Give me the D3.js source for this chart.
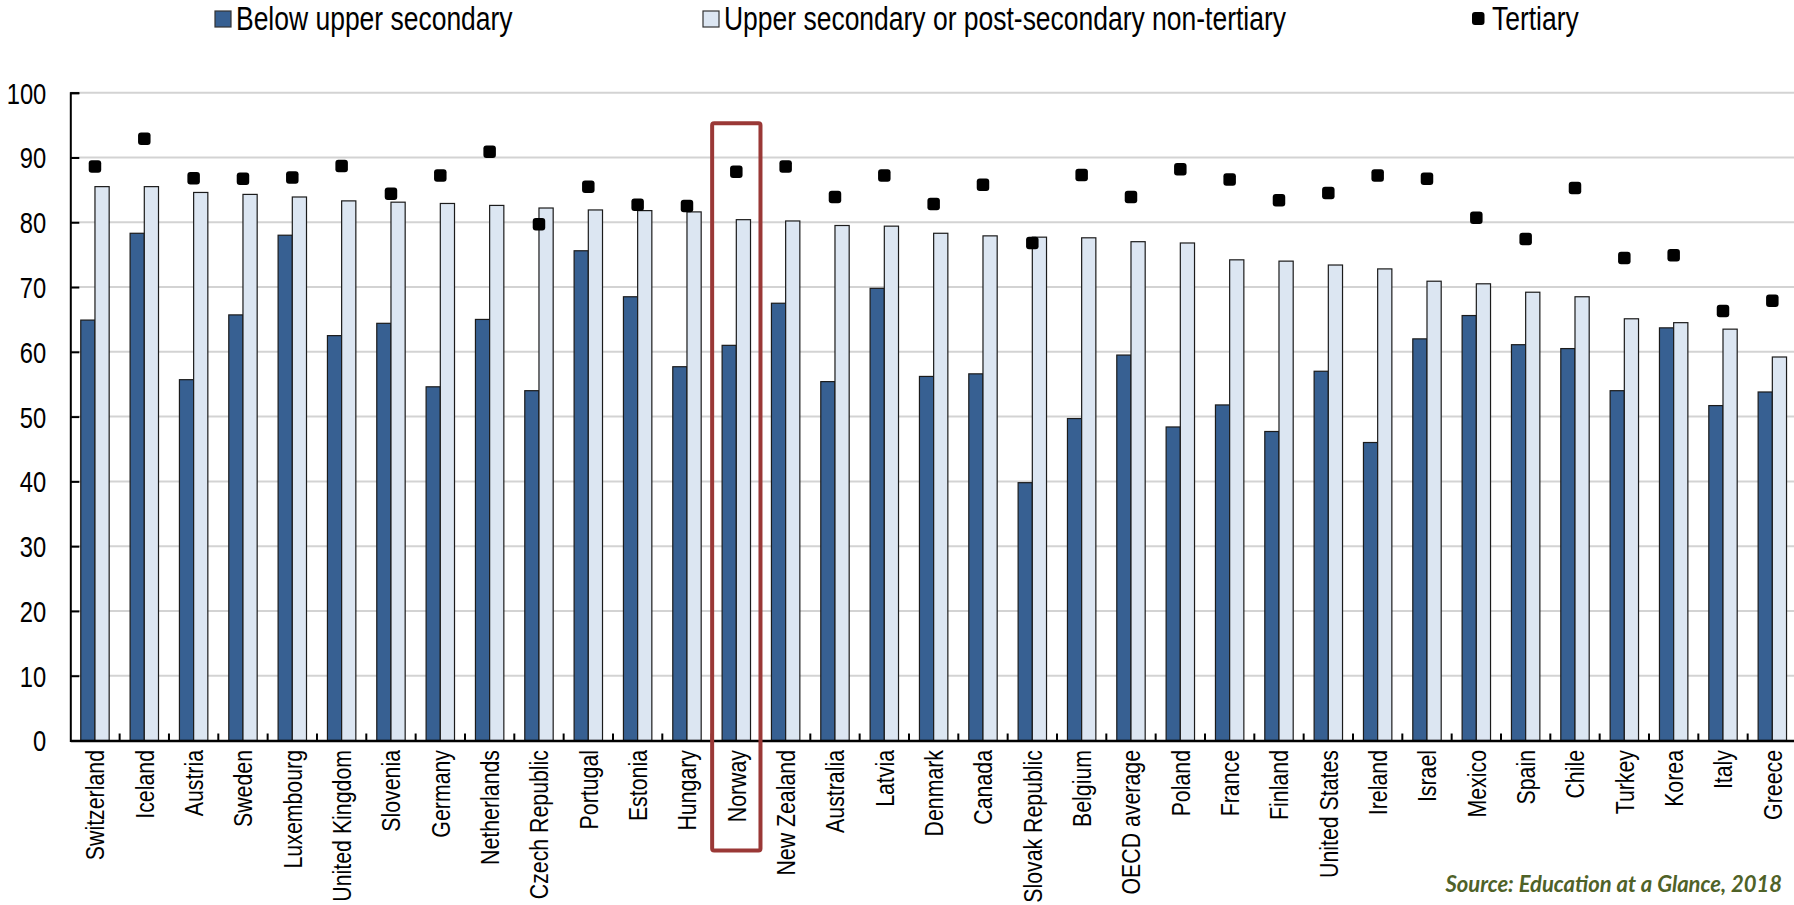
<!DOCTYPE html>
<html>
<head>
<meta charset="utf-8">
<script src="https://cdn.jsdelivr.net/npm/d3@7"></script>
<style>
  html, body { margin: 0; padding: 0; background: #fff; }
  svg { display: block; }
  .narrow { font-family: "Liberation Sans", Arial, sans-serif; }
</style>
</head>
<body>
<svg id="chart" width="1794" height="905"></svg>
<script>
const categories = ["Switzerland","Iceland","Austria","Sweden","Luxembourg","United Kingdom","Slovenia","Germany","Netherlands","Czech Republic","Portugal","Estonia","Hungary","Norway","New Zealand","Australia","Latvia","Denmark","Canada","Slovak Republic","Belgium","OECD average","Poland","France","Finland","United States","Ireland","Israel","Mexico","Spain","Chile","Turkey","Korea","Italy","Greece"];
const belowUpperSecondary = [64.9,78.3,55.7,65.7,78.0,62.5,64.4,54.6,65.0,54.0,75.6,68.5,57.7,61.0,67.5,55.4,69.8,56.2,56.6,39.8,49.7,59.5,48.4,51.8,47.7,57.0,46.0,62.0,65.6,61.1,60.5,54.0,63.7,51.7,53.8];
const upperSecondary = [85.5,85.5,84.6,84.3,83.9,83.3,83.1,82.9,82.6,82.2,81.9,81.8,81.6,80.4,80.2,79.5,79.4,78.3,77.9,77.7,77.6,77.0,76.8,74.2,74.0,73.4,72.8,70.9,70.5,69.2,68.5,65.1,64.5,63.5,59.2];
const tertiary = [88.6,92.9,86.8,86.7,86.9,88.7,84.4,87.2,90.9,79.7,85.5,82.7,82.5,87.8,88.6,83.9,87.2,82.8,85.8,76.8,87.3,83.9,88.2,86.6,83.4,84.5,87.2,86.7,80.7,77.4,85.3,74.5,74.9,66.3,67.9];
const yTicks = [0,10,20,30,40,50,60,70,80,90,100];
const seriesNames = ["Below upper secondary","Upper secondary or post-secondary non-tertiary","Tertiary"];
const highlighted = "Norway";
const sourceText = "Source: Education at a Glance, 2018";

const colDark = "#376092", colLight = "#dce6f2", colOutline = "#1b1b1b";
const NARROW = 0.82; // emulate a condensed face
const svg = d3.select("#chart");
const W = 1794, H = 905;
const mLeft = 70.3, mRight = 1797, mTop = 92.7, mBottom = 740.5;

const x = d3.scaleBand().domain(categories).range([mLeft, mRight]).paddingInner(0).paddingOuter(0);
const x1 = d3.scaleBand().domain(["below","upper"]).range([0, x.bandwidth()]).paddingInner(0).paddingOuter(0.737);
const y = d3.scaleLinear().domain([0,100]).range([mBottom, mTop]);

// gridlines
svg.append("g").selectAll("line").data(yTicks.filter(d => d > 0)).join("line")
  .attr("x1", mLeft).attr("x2", W).attr("y1", d => y(d)).attr("y2", d => y(d))
  .attr("stroke", "#d3d3d3").attr("stroke-width", 2);

// bars
const rows = categories.map((c,i) => ({c, below: belowUpperSecondary[i], upper: upperSecondary[i], tert: tertiary[i]}));
const g = svg.append("g").selectAll("g").data(rows).join("g")
  .attr("transform", d => `translate(${x(d.c)},0)`);
g.append("rect").attr("x", x1("below")).attr("width", x1.bandwidth())
  .attr("y", d => y(d.below)).attr("height", d => y(0) - y(d.below))
  .attr("fill", colDark).attr("stroke", colOutline).attr("stroke-width", 1.2);
g.append("rect").attr("x", x1("upper")).attr("width", x1.bandwidth())
  .attr("y", d => y(d.upper)).attr("height", d => y(0) - y(d.upper))
  .attr("fill", colLight).attr("stroke", colOutline).attr("stroke-width", 1.2);

// tertiary markers
const ms = 12.5;
svg.append("g").selectAll("rect").data(rows).join("rect")
  .attr("x", d => x(d.c) + x.bandwidth()/2 - ms/2).attr("y", d => y(d.tert) - ms/2)
  .attr("width", ms).attr("height", ms).attr("rx", 3).attr("fill", "#000");

// axes
const yAxis = d3.axisLeft(y).tickValues(yTicks).tickSize(-9).tickPadding(0).tickFormat(d3.format("d"));
const ya = svg.append("g").attr("transform", `translate(${mLeft},0)`).call(yAxis);
ya.select(".domain").attr("stroke", "#000").attr("stroke-width", 2);
ya.selectAll(".tick line").attr("stroke", "#000").attr("stroke-width", 2);
ya.selectAll(".tick text").attr("class", "narrow").attr("font-size", 29).attr("fill", "#000")
  .attr("transform", `scale(${NARROW},1)`)
  .attr("x", -24 / NARROW).attr("dy", "0.36em").attr("text-anchor", "end");

const xAxis = d3.axisBottom(x).tickSize(0).tickPadding(0);
const xa = svg.append("g").attr("transform", `translate(0,${mBottom})`).call(xAxis);
xa.select(".domain").attr("stroke", "#000").attr("stroke-width", 2.5);
xa.selectAll(".tick text").attr("class", "narrow").attr("font-size", 26).attr("fill", "#000")
  .attr("transform", `rotate(-90) scale(${NARROW},1)`).attr("text-anchor", "end")
  .attr("x", -9.5 / NARROW).attr("y", 0).attr("dy", "0.36em");
// category separator ticks
svg.append("g").selectAll("line").data(categories.slice(1)).join("line")
  .attr("x1", d => x(d)).attr("x2", d => x(d)).attr("y1", mBottom).attr("y2", mBottom - 7)
  .attr("stroke", "#000").attr("stroke-width", 2);

// highlight box
svg.append("rect")
  .attr("x", x(highlighted) + 0.5).attr("width", x.bandwidth() - 1)
  .attr("y", y(95.3)).attr("height", (mBottom + 110) - y(95.3))
  .attr("fill", "none").attr("stroke", "#9a3836").attr("stroke-width", 4).attr("rx", 2);

// legend
const lg = svg.append("g");
const legendItems = [
  {name: seriesNames[0], x: 215, type: "sq", fill: colDark},
  {name: seriesNames[1], x: 703, type: "sq", fill: colLight},
  {name: seriesNames[2], x: 1472, type: "mk", fill: "#000"}
];
legendItems.forEach(it => {
  if (it.type === "sq") {
    lg.append("rect").attr("x", it.x).attr("y", 11).attr("width", 16).attr("height", 16)
      .attr("fill", it.fill).attr("stroke", "#333").attr("stroke-width", 1.2);
  } else {
    lg.append("rect").attr("x", it.x).attr("y", 12).attr("width", 12.5).attr("height", 13)
      .attr("rx", 3).attr("fill", it.fill);
  }
  lg.append("text").attr("class", "narrow")
    .attr("transform", `translate(${it.x + (it.type === "sq" ? 21 : 20)},30) scale(${NARROW},1)`)
    .attr("font-size", 32.3).attr("fill", "#000").text(it.name);
});

// source
svg.append("text").attr("x", 1782).attr("y", 892).attr("text-anchor", "end")
  .attr("font-family", "Lato, 'DejaVu Sans', sans-serif").attr("font-weight", "bold").attr("font-style", "italic")
  .attr("font-size", 22).attr("fill", "#4f6228")
  .text(sourceText);
</script>
</body>
</html>
